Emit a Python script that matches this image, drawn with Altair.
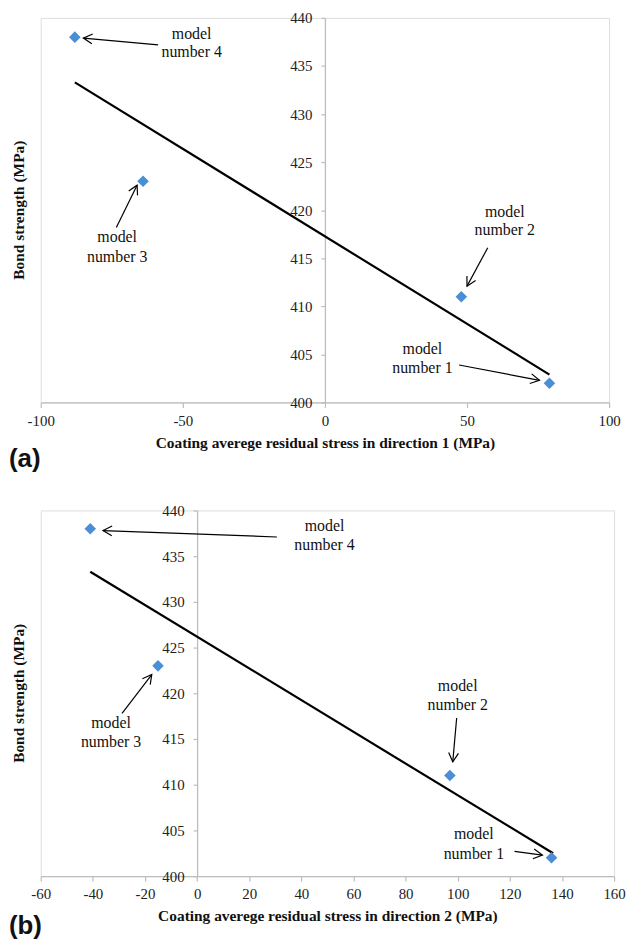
import math
import altair as alt
import pandas as pd

SERIF = "Liberation Serif"
SANS = "Liberation Sans"
AXIS_GREY = "#bdbdbd"
BLUE = "#4a8fd6"

y_ticks = [400, 405, 410, 415, 420, 425, 430, 435, 440]
y_domain = [400, 440]
line1 = ["model", "model", "model", "model"]
line2 = ["number 1", "number 2", "number 3", "number 4"]

# ---------------- panel (a) ----------------
a_stress = [79, 48, -64, -88]
a_bond = [402, 411, 423, 438]
a_fit_x = [-88, 79]
a_fit_y = [433.3, 402.9]
a_x_domain = [-100, 100]
a_x_ticks = [-100, -50, 0, 50, 100]
a_text_x = [34.3, 63.3, -73.1, -46.9]
a_text_y1 = [405.6, 419.85, 417.2, 438.35]
a_text_y2 = [403.6, 417.9, 415.1, 436.4]
a_arrow_x0 = [47.2, 57.3, -73.4, -58.7]
a_arrow_y0 = [403.9, 416.1, 418.2, 437.2]
a_arrow_x1 = [75.5, 50.0, -66.1, -85.0]
a_arrow_y1 = [402.3, 412.1, 422.6, 437.9]
a_x_title = "Coating averege residual stress in direction 1 (MPa)"

# ---------------- panel (b) ----------------
b_stress = [136, 97, -15, -41]
b_bond = [402, 411, 423, 438]
b_fit_x = [-41, 136.6]
b_fit_y = [433.3, 402.5]
b_x_domain = [-60, 160]
b_x_ticks = [-60, -40, -20, 0, 20, 40, 60, 80, 100, 120, 140, 160]
b_text_x = [106.2, 100.0, -33.0, 48.9]
b_text_y1 = [404.6, 420.75, 416.7, 438.34]
b_text_y2 = [402.4, 418.7, 414.7, 436.17]
b_arrow_x0 = [121.8, 99.6, -28.8, 30.6]
b_arrow_y0 = [402.7, 417.3, 417.8, 437.1]
b_arrow_x1 = [132.5, 98.1, -17.4, -36.1]
b_arrow_y1 = [402.3, 412.5, 422.05, 437.8]
b_x_title = "Coating averege residual stress in direction 2 (MPa)"

y_title = "Bond strength (MPa)"


def panel(stress, bond, fit_x, fit_y, x_dom, x_ticks, W, H,
          text_x, ty1, ty2, ax0, ay0, ax1, ay1, x_title, tag, tag_dy):
    xscale = alt.Scale(domain=x_dom, nice=False, zero=False)
    yscale = alt.Scale(domain=y_domain, nice=False, zero=False)
    x_axis = alt.Axis(values=x_ticks, title=x_title, grid=False,
                      labelExpr="'' + datum.value",
                      domainColor=AXIS_GREY, domainWidth=1.3,
                      tickColor=AXIS_GREY, tickSize=5, tickWidth=1.2,
                      labelFont=SERIF, labelFontSize=15, labelColor="#222",
                      labelPadding=6, labelFlush=False, labelOverlap=False,
                      titleFont=SERIF, titleFontSize=15.5, titleFontWeight="bold",
                      titleColor="#111", titlePadding=7)
    offset = -W * (0 - x_dom[0]) / (x_dom[1] - x_dom[0])
    y_axis = alt.Axis(values=y_ticks, title=None, grid=False, offset=offset,
                      labelExpr="'' + datum.value",
                      domainColor=AXIS_GREY, domainWidth=1.3,
                      tickColor=AXIS_GREY, tickSize=4, tickWidth=1.2,
                      labelFont=SERIF, labelFontSize=15, labelColor="#222",
                      labelPadding=9, labelFlush=False, labelOverlap=False)
    X = alt.X("x:Q", scale=xscale, axis=x_axis)
    Y = alt.Y("y:Q", scale=yscale, axis=y_axis)

    pts = pd.DataFrame({"x": stress, "y": bond})
    fit = pd.DataFrame({"x": fit_x, "y": fit_y})
    txt = pd.DataFrame({"x": text_x + text_x, "y": ty1 + ty2, "t": line1 + line2})

    sx = W / (x_dom[1] - x_dom[0])
    sy = H / (y_domain[1] - y_domain[0])
    angles = [math.degrees(math.atan2(-(y1 - y0) * sy, (x1 - x0) * sx)) % 360
              for x0, y0, x1, y1 in zip(ax0, ay0, ax1, ay1)]
    arr = pd.DataFrame({"x": ax0, "y": ay0, "x2": ax1, "y2": ay1})
    heads = pd.DataFrame({"x": ax1, "y": ay1, "a": angles})

    line_l = alt.Chart(fit).mark_line(color="black", strokeWidth=2.2).encode(x=X, y=Y)
    pt_l = alt.Chart(pts).mark_point(shape="diamond", filled=True, color=BLUE,
                                     size=135, opacity=1).encode(x=X, y=Y)
    txt_l = alt.Chart(txt).mark_text(font=SERIF, fontSize=16, color="#111",
                                     align="center", baseline="middle").encode(
        x=X, y=Y, text="t:N")
    shaft_l = alt.Chart(arr).mark_rule(color="black", strokeWidth=1.2).encode(
        x=X, y=Y, x2="x2:Q", y2="y2:Q")
    head_l = alt.Chart(heads).mark_point(
        shape="M-1,-0.55L0,0L-1,0.55", filled=False, stroke="black",
        strokeWidth=1.2, size=324, opacity=1).encode(
        x=X, y=Y, angle=alt.Angle("a:Q", scale=None))
    ytitle_l = alt.Chart(pd.DataFrame({"t": [y_title]})).mark_text(
        font=SERIF, fontSize=15.5, fontWeight="bold", color="#111",
        angle=270, align="center", baseline="middle").encode(
        x=alt.value(-22), y=alt.value(H / 2), text="t:N")
    tag_l = alt.Chart(pd.DataFrame({"t": [tag]})).mark_text(
        font=SANS, fontSize=26, fontWeight="bold", color="#111",
        align="left", baseline="middle").encode(
        x=alt.value(-32), y=alt.value(H + tag_dy), text="t:N")

    return alt.layer(line_l, shaft_l, head_l, pt_l, txt_l, ytitle_l, tag_l).properties(
        width=W, height=H)


pa = panel(a_stress, a_bond, a_fit_x, a_fit_y, a_x_domain, a_x_ticks, 572, 387,
           a_text_x, a_text_y1, a_text_y2, a_arrow_x0, a_arrow_y0, a_arrow_x1,
           a_arrow_y1, a_x_title, "(a)", 57)
pb = panel(b_stress, b_bond, b_fit_x, b_fit_y, b_x_domain, b_x_ticks, 577, 368,
           b_text_x, b_text_y1, b_text_y2, b_arrow_x0, b_arrow_y0, b_arrow_x1,
           b_arrow_y1, b_x_title, "(b)", 50)

chart = alt.vconcat(pa, pb, spacing=108.7, bounds="flush").properties(
    padding={"left": 8, "top": 7, "right": 0, "bottom": 5}
).configure_view(stroke=None).configure(background="white")

chart.save("out.html", embed_options={"renderer": "svg", "actions": False})
